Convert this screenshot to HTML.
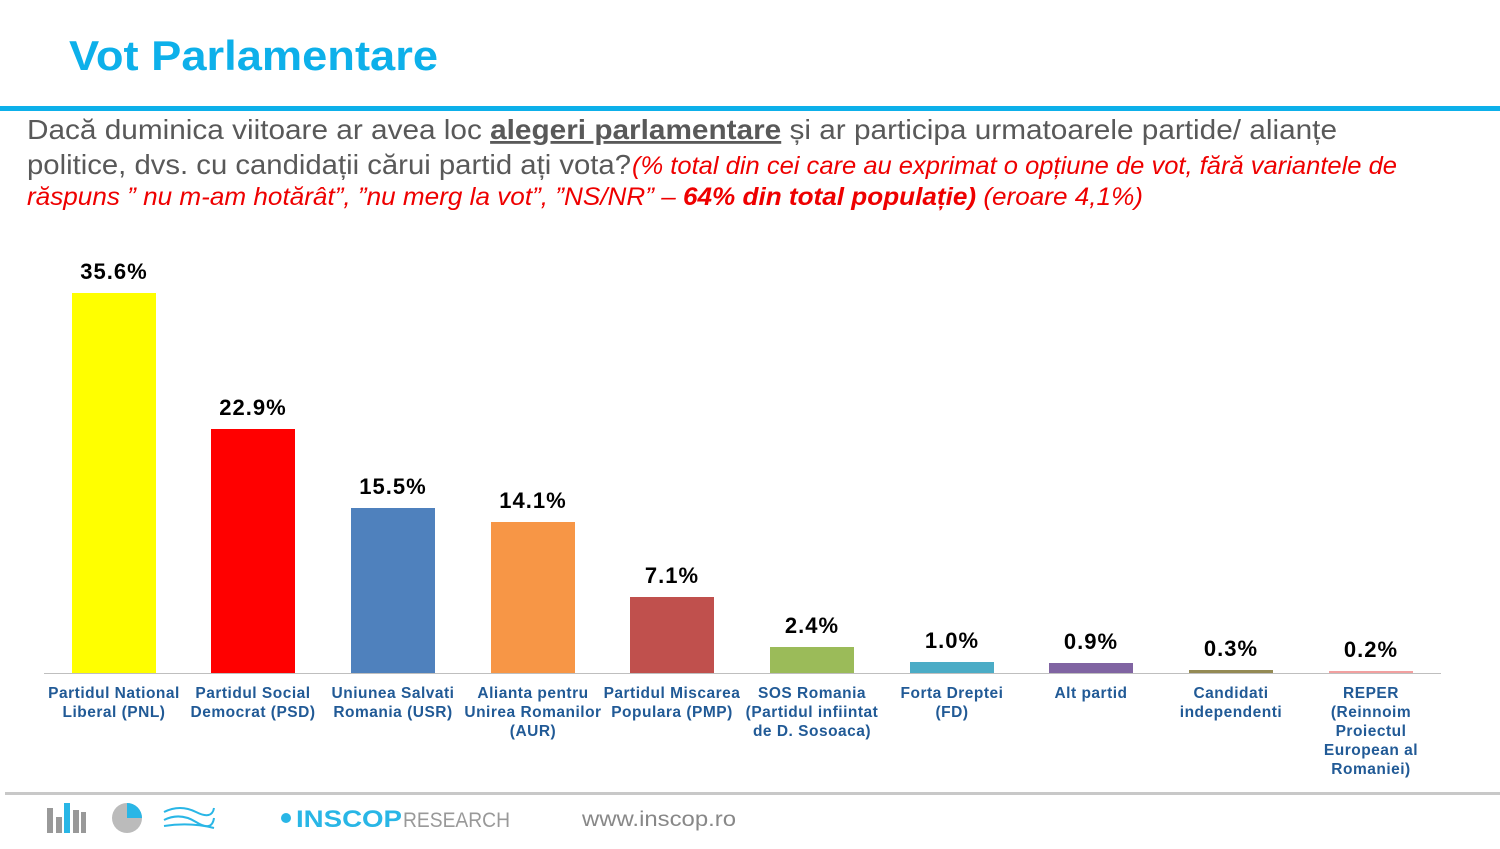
<!DOCTYPE html>
<html><head><meta charset="utf-8"><style>
body{margin:0;width:1500px;height:844px;background:#fff;overflow:hidden;font-family:"Liberation Sans",sans-serif}
</style></head><body>
<svg width="1500" height="844" xmlns="http://www.w3.org/2000/svg" font-family="Liberation Sans, sans-serif">
<text x="69" y="70" font-size="42" font-weight="bold" fill="#0DB0EA" textLength="369" lengthAdjust="spacingAndGlyphs">Vot Parlamentare</text>
<rect x="0" y="106" width="1500" height="5" fill="#0DB0EA"/>
<text x="27" y="139" font-size="28" fill="#595959" textLength="1310" lengthAdjust="spacingAndGlyphs">Dacă duminica viitoare ar avea loc <tspan font-weight="bold" text-decoration="underline">alegeri parlamentare</tspan> și ar participa urmatoarele partide/ alianțe</text>
<text x="27" y="174" font-size="28" fill="#595959" textLength="604" lengthAdjust="spacingAndGlyphs">politice, dvs. cu candidații cărui partid ați vota?</text>
<text x="632" y="174" font-size="25" font-style="italic" fill="#EE0000" textLength="765" lengthAdjust="spacingAndGlyphs">(% total din cei care au exprimat o opțiune de vot, fără variantele de</text>
<text x="27" y="205" font-size="25" font-style="italic" fill="#EE0000" textLength="1116" lengthAdjust="spacingAndGlyphs">răspuns ” nu m-am hotărât”, ”nu merg la vot”, ”NS/NR” – <tspan font-weight="bold">64% din total populație)</tspan> (eroare 4,1%)</text>
<line x1="44" y1="673.5" x2="1441" y2="673.5" stroke="#BFBFBF"/>
<g font-size="22" font-weight="bold" fill="#000" text-anchor="middle" letter-spacing="1">
<rect x="72" y="293" width="84" height="380" fill="#FFFF00"/><text x="114" y="279">35.6%</text>
<rect x="211" y="429" width="84" height="244" fill="#FF0000"/><text x="253" y="415">22.9%</text>
<rect x="351" y="508" width="84" height="165" fill="#4F81BD"/><text x="393" y="494">15.5%</text>
<rect x="491" y="522" width="84" height="151" fill="#F79646"/><text x="533" y="508">14.1%</text>
<rect x="630" y="597" width="84" height="76" fill="#C0504D"/><text x="672" y="583">7.1%</text>
<rect x="770" y="647" width="84" height="26" fill="#9BBB59"/><text x="812" y="633">2.4%</text>
<rect x="910" y="662" width="84" height="11" fill="#4BACC6"/><text x="952" y="648">1.0%</text>
<rect x="1049" y="663" width="84" height="10" fill="#8064A2"/><text x="1091" y="649">0.9%</text>
<rect x="1189" y="670" width="84" height="3" fill="#948A54"/><text x="1231" y="656">0.3%</text>
<rect x="1329" y="671" width="84" height="2" fill="#F2A0A0"/><text x="1371" y="657">0.2%</text>
</g>
<g font-size="15.5" font-weight="bold" fill="#215A96" text-anchor="middle" letter-spacing="0.5">
<text x="114" y="698">Partidul National</text><text x="114" y="717">Liberal (PNL)</text>
<text x="253" y="698">Partidul Social</text><text x="253" y="717">Democrat (PSD)</text>
<text x="393" y="698">Uniunea Salvati</text><text x="393" y="717">Romania (USR)</text>
<text x="533" y="698">Alianta pentru</text><text x="533" y="717">Unirea Romanilor</text><text x="533" y="736">(AUR)</text>
<text x="672" y="698">Partidul Miscarea</text><text x="672" y="717">Populara (PMP)</text>
<text x="812" y="698">SOS Romania</text><text x="812" y="717">(Partidul infiintat</text><text x="812" y="736">de D. Sosoaca)</text>
<text x="952" y="698">Forta Dreptei</text><text x="952" y="717">(FD)</text>
<text x="1091" y="698">Alt partid</text>
<text x="1231" y="698">Candidati</text><text x="1231" y="717">independenti</text>
<text x="1371" y="698">REPER</text><text x="1371" y="717">(Reinnoim</text><text x="1371" y="736">Proiectul</text><text x="1371" y="755">European al</text><text x="1371" y="774">Romaniei)</text>
</g>
<rect x="5" y="792" width="1495" height="3" fill="#C8C8C8"/>
<rect x="47" y="808" width="6" height="25" fill="#999"/><rect x="56" y="817" width="6" height="16" fill="#999"/><rect x="64" y="803" width="6" height="30" fill="#29B6E6"/><rect x="73" y="810" width="6" height="23" fill="#999"/><rect x="81" y="812" width="5" height="21" fill="#999"/>
<circle cx="127" cy="818" r="15" fill="#BBB"/><path d="M127 818 L127 803 A15 15 0 0 1 142 818 Z" fill="#29B6E6"/>
<path d="M164 812 Q180 804 196 812 T214 808 M164 820 Q180 812 196 822 T214 818 M164 826 Q190 822 214 828" stroke="#29B6E6" stroke-width="2" fill="none"/>
<circle cx="286" cy="818" r="5" fill="#29B6E6"/>
<text x="296" y="827" font-size="24" font-weight="bold" fill="#29B6E6" textLength="106" lengthAdjust="spacingAndGlyphs">INSCOP</text>
<text x="403" y="827" font-size="21" fill="#999" textLength="107" lengthAdjust="spacingAndGlyphs">RESEARCH</text>
<text x="582" y="826" font-size="21" fill="#888" textLength="154" lengthAdjust="spacingAndGlyphs">www.inscop.ro</text>
</svg>
</body></html>
